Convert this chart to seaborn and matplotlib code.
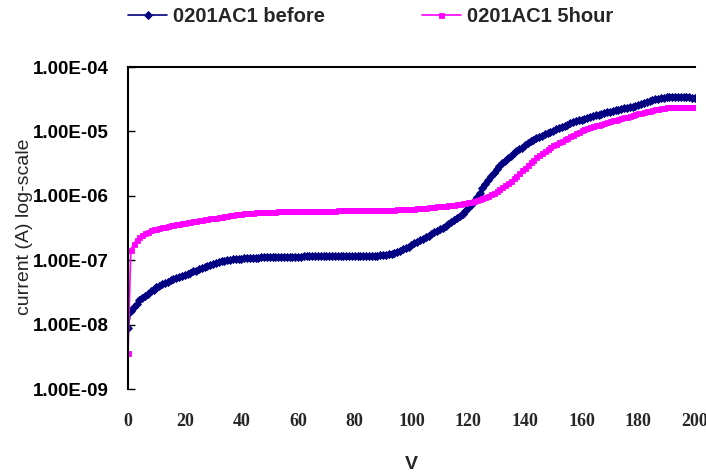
import numpy as np
import pandas as pd
import matplotlib
matplotlib.use("Agg")
import matplotlib.pyplot as plt
import seaborn as sns

# Bias voltage sweep (V) and measured current in nA for both runs
voltage = list(range(0, 201))

before_nA = [
    9, 16, 19, 21, 24, 26, 28, 30, 33, 35,
    38, 40, 42, 44, 46, 49, 51, 53, 55, 57,
    60, 62, 64, 67, 69, 72, 75, 78, 81, 84,
    88, 90, 93, 96, 98, 100, 102, 103, 104, 105,
    106, 107, 108, 108, 109, 110, 110, 111, 111, 112,
    112, 112, 113, 113, 113, 113, 114, 114, 114, 114,
    114, 114, 115, 115, 115, 115, 115, 115, 115, 116,
    116, 116, 116, 116, 116, 117, 117, 117, 117, 117,
    117, 117, 117, 118, 118, 118, 118, 118, 118, 119,
    120, 121, 123, 126, 130, 135, 141, 148, 155, 163,
    172, 182, 192, 203, 215, 228, 242, 256, 271, 287,
    304, 322, 342, 365, 390, 418, 450, 486, 527, 573,
    650, 730, 830, 960, 1120, 1320, 1540, 1780, 2030, 2300,
    2600, 2900, 3200, 3500, 3850, 4200, 4550, 4900, 5250, 5600,
    6100, 6600, 7000, 7400, 7800, 8200, 8600, 9000, 9400, 9800,
    10300, 10800, 11300, 11800, 12300, 12800, 13300, 13800, 14300, 14800,
    15300, 15800, 16300, 16800, 17300, 17800, 18300, 18800, 19300, 19800,
    20300, 20800, 21300, 21800, 22300, 22800, 23300, 23800, 24300, 24800,
    25600, 26500, 27500, 28500, 29500, 30500, 31400, 32200, 32900, 33500,
    34000, 34300, 34500, 34600, 34600, 34500, 34300, 34000, 33700, 33400,
    33200,
]

after5h_nA = [
    3.6, 145, 180, 205, 230, 250, 265, 278, 290, 300,
    310, 318, 326, 333, 340, 347, 354, 361, 368, 375,
    382, 389, 396, 403, 410, 417, 424, 431, 438, 445,
    452, 460, 468, 476, 484, 492, 500, 508, 515, 522,
    528, 534, 539, 544, 548, 552, 555, 558, 561, 563,
    565, 567, 569, 571, 572, 573, 574, 575, 576, 577,
    578, 579, 580, 581, 582, 583, 584, 585, 586, 587,
    588, 589, 590, 591, 592, 593, 594, 595, 596, 597,
    598, 599, 600, 601, 602, 603, 604, 605, 606, 607,
    608, 609, 610, 611, 612, 614, 616, 618, 620, 622,
    625, 630, 636, 642, 648, 655, 662, 669, 676, 683,
    690, 698, 706, 714, 722, 730, 740, 750, 760, 772,
    790, 810, 835, 860, 890, 925, 965, 1010, 1060, 1120,
    1190, 1270, 1360, 1460, 1580, 1720, 1880, 2060, 2260, 2480,
    2750, 3050, 3350, 3650, 3950, 4300, 4650, 5000, 5350, 5700,
    6050, 6400, 6750, 7100, 7500, 7900, 8400, 8900, 9400, 9900,
    10400, 10800, 11200, 11600, 12000, 12400, 12800, 13200, 13600, 14000,
    14400, 14800, 15200, 15600, 16000, 16500, 17000, 17500, 18000, 18500,
    19000, 19500, 20000, 20500, 21000, 21500, 22000, 22500, 23000, 23500,
    23800, 24000, 24100, 24200, 24200, 24200, 24200, 24200, 24200, 24200,
    24200,
]

series_names = ["0201AC1 before", "0201AC1 5hour"]
series_colors = ["#000080", "#FF00FF"]
series_markers = ["D", "s"]

y_ticks = [1e-9, 1e-8, 1e-7, 1e-6, 1e-5, 1e-4]
y_tick_labels = ["1.00E-09", "1.00E-08", "1.00E-07", "1.00E-06", "1.00E-05", "1.00E-04"]
x_ticks = list(range(0, 201, 20))

frames = []
for name, vals in zip(series_names, [before_nA, after5h_nA]):
    frames.append(pd.DataFrame({
        "V": voltage,
        "current": np.array(vals, dtype=float) * 1e-9,
        "series": name,
    }))
df = pd.concat(frames, ignore_index=True)

sns.set_style("white")
plt.rcParams["font.family"] = ["Liberation Sans", "DejaVu Sans"]

fig = plt.figure(figsize=(7.06, 4.72), dpi=100)
ax = fig.add_axes([0.1813, 0.1758, 0.8031, 0.6822])

for name, color, mk, ms in zip(series_names, series_colors, series_markers, [4.2, 3.6]):
    sub = df[df["series"] == name]
    sns.lineplot(data=sub, x="V", y="current", ax=ax, color=color, marker=mk,
                 markersize=ms, markeredgecolor=color, markeredgewidth=0.6,
                 linewidth=1.2, label=name, estimator=None, sort=False)

ax.set_yscale("log")
ax.set_ylim(1e-9, 1e-4)
ax.set_xlim(0, 200)
ax.minorticks_off()
ax.set_yticks(y_ticks)
ax.set_yticklabels(y_tick_labels)
ax.set_xticks(x_ticks)
ax.set_xticklabels([str(t) for t in x_ticks])

for lab in ax.get_yticklabels():
    lab.set_fontweight("bold")
    lab.set_fontsize(13.5)
for lab in ax.get_xticklabels():
    lab.set_family(["Liberation Serif", "DejaVu Serif"])
    lab.set_fontweight("bold")
    lab.set_fontsize(13)

ax.tick_params(axis="y", direction="in", length=5, width=1, pad=14, left=True, colors="black")
ax.tick_params(axis="x", length=0, pad=17)

for side in ["right", "bottom"]:
    ax.spines[side].set_visible(False)
for side in ["left", "top"]:
    ax.spines[side].set_visible(True)
    ax.spines[side].set_color("black")
    ax.spines[side].set_linewidth(1.5)

ax.set_xlabel("V", fontsize=14, fontweight="bold", labelpad=19)
ax.set_ylabel("current (A) log-scale", fontsize=14)
ax.yaxis.set_label_coords(-0.167, 0.503)
ax.grid(False)

leg = ax.legend(loc="center left", bbox_to_anchor=(118 / 706, 1 - 17 / 472),
                bbox_transform=fig.transFigure, ncol=2, frameon=False, borderpad=0,
                columnspacing=4.8, handlelength=1.95, handletextpad=0.28,
                prop={"weight": "bold", "size": 14.5})

fig.savefig("out.png", dpi=100, facecolor="white")
